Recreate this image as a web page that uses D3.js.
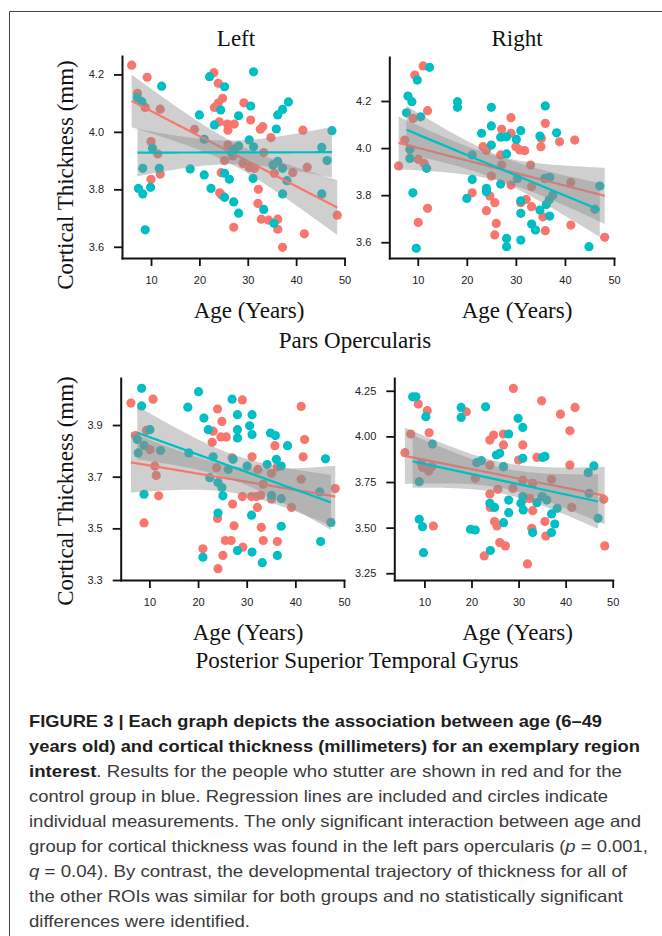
<!DOCTYPE html>
<html>
<head>
<meta charset="utf-8">
<script src="https://cdn.jsdelivr.net/npm/d3@7"></script>
<style>
  body { margin: 0; background: #fff; }
  svg { display: block; }
</style>
</head>
<body>
<svg id="fig" width="662" height="936"></svg>
<script>
// [age, cortical thickness]
const leftOpercRed = [[6.0,4.232],[7.2,4.134],[9.2,4.19],[8.8,4.085],[11.9,4.079],[10.0,3.966],[11.4,3.923],[11.9,3.853],[10.0,3.835],[19.0,4.009],[23.0,4.206],[23.9,4.169],[24.8,4.117],[23.9,4.10],[23.1,4.085],[24.1,4.035],[25.9,4.006],[27.2,4.027],[25.8,4.027],[29.2,4.101],[30.6,4.041],[32.6,4.009],[33.1,4.018],[34.8,3.98],[41.4,4.006],[42.3,3.877],[39.3,3.858],[25.2,3.90],[25.9,3.954],[26.9,3.916],[29.0,3.89],[30.3,3.876],[31.4,3.873],[33.3,3.928],[24.5,3.858],[24.2,3.788],[24.6,3.78],[32.2,3.80],[32.1,3.751],[32.8,3.696],[34.3,3.693],[36.2,3.696],[36.2,3.661],[27.1,3.668],[37.2,3.598],[41.7,3.645],[48.5,3.71],[35.5,3.856]]
const leftOpercTeal = [[7.2,4.119],[8.1,4.105],[12.2,4.159],[8.3,3.873],[11.7,3.873],[7.4,3.803],[8.3,3.784],[9.9,3.807],[8.8,3.659],[10.3,3.943],[20.0,4.059],[21.0,3.974],[22.1,4.192],[23.1,4.024],[25.2,4.157],[24.4,4.076],[18.1,3.871],[21.0,3.85],[22.4,3.803],[25.2,3.856],[26.2,3.835],[25.2,3.772],[27.1,3.756],[28.1,3.717],[31.2,4.209],[30.6,4.09],[28.1,4.056],[30.3,3.972],[31.2,3.948],[28.1,3.951],[27.3,3.94],[26.6,3.93],[31.1,3.838],[35.9,4.01],[36.2,4.059],[37.2,4.078],[38.4,4.104],[35.2,3.885],[36.2,3.897],[37.2,3.873],[38.1,3.83],[37.2,3.784],[33.3,3.73],[35.4,3.682],[45.3,3.946],[46.4,3.90],[45.3,3.784],[47.4,4.004]]

const rightOpercRed = [[6.1,3.924],[7.35,4.034],[9.05,4.126],[9.4,4.31],[11.1,4.349],[12.0,4.159],[10.1,3.952],[11.3,3.935],[12.0,3.744],[10.1,3.684],[21.1,3.81],[23.3,4.006],[24.0,3.99],[25.0,3.881],[24.0,3.734],[24.7,3.796],[25.7,3.768],[26.0,3.68],[25.7,3.631],[27.1,4.08],[26.9,3.971],[29.0,4.129],[29.0,4.063],[27.1,3.928],[29.0,3.843],[30.0,4.006],[30.8,3.992],[31.8,3.989],[31.0,3.768],[32.1,3.782],[33.2,3.751],[33.0,3.928],[33.2,3.836],[35.1,4.006],[36.0,4.105],[35.2,4.041],[35.5,3.708],[36.0,3.649],[38.9,4.027],[42.0,4.034],[41.2,3.854],[41.2,3.673],[48.1,3.621]]
const rightOpercTeal = [[8.0,4.221],[8.8,4.197],[7.7,4.15],[9.9,4.289],[12.4,4.343],[10.6,4.133],[8.4,3.995],[8.4,3.956],[11.8,3.914],[9.0,3.81],[9.7,3.574],[18.1,4.197],[18.1,4.173],[21.1,3.867],[20.0,3.786],[21.1,3.971],[23.0,4.063],[25.0,4.173],[25.0,4.094],[25.0,4.013],[24.0,3.829],[24.0,3.815],[26.9,4.046],[28.1,4.048],[28.1,3.975],[26.9,3.847],[30.1,4.037],[31.0,4.074],[30.3,3.871],[31.0,3.776],[31.0,3.723],[28.1,3.616],[28.1,3.581],[31.0,3.609],[33.2,3.677],[34.0,3.652],[34.9,3.737],[34.9,4.051],[36.0,4.179],[38.3,4.065],[36.9,3.876],[35.9,3.871],[36.9,3.711],[37.5,3.80],[36.8,3.78],[36.2,3.76],[44.9,3.581],[46.1,3.74],[47.1,3.839]]

const leftPstgRed = [[6.2,3.985],[7.1,3.859],[9.4,3.879],[10.75,4.0],[10.1,3.805],[11.1,3.741],[11.4,3.705],[11.9,3.626],[8.9,3.521],[23.1,3.876],[22.9,3.833],[24.0,3.962],[24.9,3.914],[24.7,3.854],[25.8,3.854],[23.8,3.735],[27.0,3.773],[29.1,3.997],[31.1,3.777],[27.1,3.594],[29.1,3.623],[31.0,3.623],[32.0,3.623],[32.9,3.628],[32.2,3.581],[33.0,3.504],[33.4,3.453],[36.3,3.449],[32.3,3.728],[33.4,3.671],[35.1,3.713],[36.3,3.738],[35.8,3.82],[41.9,3.844],[41.6,3.777],[41.2,3.972],[41.2,3.69],[39.2,3.581],[48.2,3.654],[24.0,3.538],[21.0,3.421],[25.1,3.395],[24.1,3.344],[25.6,3.453],[26.8,3.453],[27.4,3.51],[29.2,3.427],[35.1,3.613]]
const leftPstgTeal = [[8.4,4.042],[8.4,3.974],[7.5,3.844],[8.9,3.821],[7.7,3.792],[10.1,3.882],[12.3,3.801],[8.9,3.632],[17.9,3.969],[20.1,4.029],[18.1,3.792],[21.2,3.927],[22.1,3.882],[23.1,3.777],[22.4,3.696],[24.1,3.677],[24.9,3.658],[25.1,3.626],[24.1,3.559],[21.0,3.388],[27.0,4.0],[28.1,3.94],[28.1,3.882],[28.1,3.85],[30.6,3.897],[31.1,3.94],[31.1,3.863],[26.2,3.728],[27.2,3.767],[30.1,3.741],[31.0,3.551],[28.1,3.414],[31.1,3.408],[33.2,3.367],[34.9,3.869],[35.9,3.859],[38.4,3.82],[36.1,3.767],[37.1,3.741],[34.2,3.747],[35.1,3.628],[37.1,3.615],[37.1,3.508],[36.3,3.395],[46.2,3.769],[45.0,3.641],[47.3,3.523],[45.2,3.449]]

const rightPstgRed = [[5.85,3.911],[7.1,4.013],[8.7,4.177],[10.6,4.141],[11.0,4.02],[18.9,4.135],[9.6,3.83],[10.9,3.81],[11.6,3.835],[9.3,3.856],[11.9,3.509],[28.9,4.263],[34.9,4.195],[38.9,4.122],[42.0,4.159],[40.9,4.031],[40.9,3.843],[41.3,3.611],[48.1,3.655],[48.3,3.40],[23.9,3.98],[24.7,4.007],[26.8,3.953],[26.8,4.013],[30.9,3.953],[30.0,3.87],[33.9,3.885],[23.9,3.843],[20.8,3.77],[26.8,3.834],[28.8,3.715],[25.6,3.71],[23.9,3.684],[24.0,3.611],[24.9,3.533],[25.4,3.509],[26.0,3.418],[27.2,3.40],[22.7,3.345],[31.9,3.301],[31.4,3.66],[32.4,3.66],[33.0,3.593],[32.8,3.496],[35.6,3.533],[35.8,3.454],[37.0,3.765],[33.0,3.743],[30.9,3.76]]
const rightPstgTeal = [[7.5,4.217],[8.2,4.217],[10.3,4.108],[11.7,3.958],[8.9,3.752],[8.9,3.546],[9.6,3.505],[9.8,3.363],[17.8,4.159],[17.8,4.104],[23.0,4.162],[21.1,3.856],[22.1,3.867],[19.8,3.491],[20.8,3.487],[24.0,3.374],[25.3,3.898],[26.0,3.907],[27.9,4.013],[29.9,4.099],[30.9,4.049],[30.9,3.88],[35.1,3.885],[35.6,3.89],[26.8,3.834],[23.9,3.633],[24.9,3.611],[27.9,3.651],[27.9,3.582],[26.8,3.527],[30.5,3.633],[31.0,3.597],[33.0,3.473],[33.9,3.637],[36.0,3.651],[35.0,3.67],[37.0,3.575],[37.7,3.52],[37.0,3.473],[38.2,3.606],[44.8,3.801],[46.0,3.838],[45.0,3.688],[46.9,3.551],[30.9,3.67]]

const ageTicks = [10, 20, 30, 40, 50]
const opercTicks = [3.6, 3.8, 4.0, 4.2]
const pstgLeftTicks = [3.3, 3.5, 3.7, 3.9]
const pstgRightTicks = [3.25, 3.5, 3.75, 4.0, 4.25]

const sideTitles = ['Left', 'Right']
const regionTitles = ['Pars Opercularis', 'Posterior Superior Temporal Gyrus']
const xTitle = 'Age (Years)'
const yTitle = 'Cortical Thickness (mm)'

const caption = [
    [{ t: 'FIGURE 3 | Each graph depicts the association between age (6\u201349', b: 1 }],
    [{ t: 'years old) and cortical thickness (millimeters) for an exemplary region', b: 1 }],
    [{ t: 'interest', b: 1 }, { t: '. Results for the people who stutter are shown in red and for the' }],
    [{ t: 'control group in blue. Regression lines are included and circles indicate' }],
    [{ t: 'individual measurements. The only significant interaction between age and' }],
    [{ t: 'group for cortical thickness was found in the left pars opercularis (' }, { t: 'p', i: 1 }, { t: ' = 0.001,' }],
    [{ t: 'q', i: 1 }, { t: ' = 0.04). By contrast, the developmental trajectory of thickness for all of' }],
    [{ t: 'the other ROIs was similar for both groups and no statistically significant' }],
    [{ t: 'differences were identified.' }]
]
const captionWidths = [573, 611, 593, 579, 612, 619, 598, 594, 221]

const red = '#F8766D', teal = '#00BFC4'
const serif = '"Liberation Serif", "Times New Roman", serif'
const sans = '"Liberation Sans", Arial, sans-serif'

const panels = [
    { red: leftOpercRed, teal: leftOpercTeal, ticks: opercTicks, fmt: '.1f', box: [122, 56, 344.5, 258], xDom: [4, 50], yDom: [3.561, 4.264] },
    { red: rightOpercRed, teal: rightOpercTeal, ticks: opercTicks, fmt: '.1f', box: [389.3, 57, 614, 258], xDom: [4.2, 50], yDom: [3.533, 4.387] },
    { red: leftPstgRed, teal: leftPstgTeal, ticks: pstgLeftTicks, fmt: '.1f', box: [120.7, 378, 344, 580], xDom: [4.1, 50], yDom: [3.3, 4.082] },
    { red: rightPstgRed, teal: rightPstgTeal, ticks: pstgRightTicks, fmt: '.2f', box: [394.3, 378, 612.7, 580], xDom: [3.6, 50], yDom: [3.213, 4.32] }
]

// linear fit with 95% confidence band, like geom_smooth(method = 'lm')
function lmBand(pts) {
    let n = pts.length
    let mx = d3.mean(pts, d => d[0])
    let my = d3.mean(pts, d => d[1])
    let sxx = d3.sum(pts, d => (d[0] - mx) ** 2)
    let sxy = d3.sum(pts, d => (d[0] - mx) * (d[1] - my))
    let b = sxy / sxx
    let a = my - b * mx
    let s = Math.sqrt(d3.sum(pts, d => (d[1] - a - b * d[0]) ** 2) / (n - 2))
    let t = 2.01
    let [x0, x1] = d3.extent(pts, d => d[0])
    return d3.range(81).map(i => {
        let x = x0 + (x1 - x0) * i / 80
        let y = a + b * x
        let se = s * Math.sqrt(1 / n + (x - mx) ** 2 / sxx)
        return { x: x, y: y, lo: y - t * se, hi: y + t * se }
    })
}

const svg = d3.select('#fig')

// figure frame
svg.append('path')
    .attr('d', 'M9.5,936V11.5H662')
    .attr('fill', 'none')
    .attr('stroke', '#444')
    .attr('stroke-width', 1)

panels.forEach(function (p) {
    let [l, tp, r, bt] = p.box
    let x = d3.scaleLinear().domain(p.xDom).range([l, r])
    let y = d3.scaleLinear().domain(p.yDom).range([bt, tp])
    let g = svg.append('g')

    let groups = [{ pts: p.red, color: red }, { pts: p.teal, color: teal }]

    groups.forEach(function (grp) {
        g.append('g').selectAll('circle')
            .data(grp.pts)
            .enter().append('circle')
            .attr('cx', d => x(d[0]))
            .attr('cy', d => y(d[1]))
            .attr('r', 4.6)
            .attr('fill', grp.color)
    })

    groups.forEach(function (grp) {
        let band = lmBand(grp.pts)
        g.append('path')
            .datum(band)
            .attr('fill', '#8c8c8c')
            .attr('fill-opacity', 0.42)
            .attr('d', d3.area().x(d => x(d.x)).y0(d => y(d.lo)).y1(d => y(d.hi)))
        g.append('path')
            .datum(band)
            .attr('fill', 'none')
            .attr('stroke', grp.color)
            .attr('stroke-width', 2.2)
            .attr('d', d3.line().x(d => x(d.x)).y(d => y(d.y)))
    })

    let ax = g.append('g')
        .attr('transform', 'translate(0,' + bt + ')')
        .call(d3.axisBottom(x).tickValues(ageTicks).tickSize(8).tickSizeOuter(0).tickPadding(10))
    let ay = g.append('g')
        .attr('transform', 'translate(' + l + ',0)')
        .call(d3.axisLeft(y).tickValues(p.ticks).tickFormat(d3.format(p.fmt)).tickSize(8).tickSizeOuter(0).tickPadding(10))

    ;[ax, ay].forEach(function (a) {
        a.attr('font-family', sans).attr('font-size', 11)
        a.select('.domain').attr('stroke', '#111').attr('stroke-width', 2).attr('stroke-linecap', 'square')
        a.selectAll('.tick line').attr('stroke', '#111').attr('stroke-width', 1.8)
        a.selectAll('.tick text').attr('fill', '#222')
    })
})

// titles
function label(txt, x, y, size, rotate) {
    svg.append('text')
        .attr('transform', 'translate(' + x + ',' + y + ')' + (rotate ? 'rotate(-90)' : ''))
        .attr('text-anchor', 'middle')
        .attr('font-family', serif)
        .attr('font-size', size)
        .attr('fill', '#111')
        .text(txt)
}

label(sideTitles[0], 236, 46, 23)
label(sideTitles[1], 517, 46, 23)
label(xTitle, 249, 318, 23)
label(xTitle, 517, 318, 23)
label(xTitle, 248, 640, 23)
label(xTitle, 517.5, 640, 23)
label(regionTitles[0], 355, 348, 23)
label(regionTitles[1], 357, 668, 23)
label(yTitle, 73, 175, 23, true)
label(yTitle, 73, 491, 23, true)

// caption
caption.forEach(function (line, i) {
    let txt = svg.append('text')
        .attr('x', 29)
        .attr('y', 726.5 + i * 25)
        .attr('font-family', sans)
        .attr('font-size', 16.5)
        .attr('textLength', captionWidths[i])
        .attr('lengthAdjust', 'spacingAndGlyphs')
    line.forEach(function (part) {
        txt.append('tspan')
            .attr('font-weight', part.b ? 'bold' : 'normal')
            .attr('font-style', part.i ? 'italic' : 'normal')
            .attr('fill', part.b ? '#1e1e1e' : '#3a3a3a')
            .text(part.t)
    })
})
</script>
</body>
</html>
